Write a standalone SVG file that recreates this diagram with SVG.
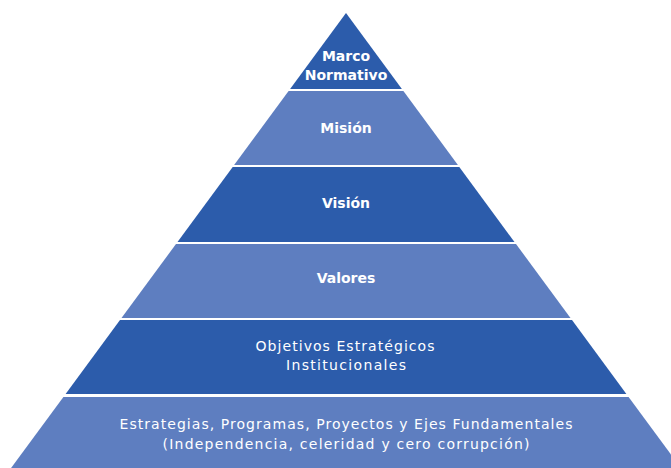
<svg xmlns="http://www.w3.org/2000/svg" width="671" height="468" viewBox="0 0 671 468">
<style>
.dark{fill:#2C5CAB}
.light{fill:#5E7EC0}
.b{font-family:"DejaVu Sans","Liberation Sans",sans-serif;font-weight:bold;font-size:14px;fill:#fff;text-anchor:middle}
.r{font-family:"DejaVu Sans","Liberation Sans",sans-serif;font-size:14px;fill:#fff;text-anchor:middle}
</style>
<rect width="671" height="468" fill="#fff"/>
<g id="marco">
<polygon class="dark" points="346,13 401.9,89 290.1,89"/>
<text class="b" x="346" y="61">Marco</text>
<text class="b" x="346" y="80">Normativo</text>
</g>
<g id="mision">
<polygon class="light" points="288.6,91 403.4,91 457.9,165 234.1,165"/>
<text class="b" x="346" y="133">Misión</text>
</g>
<g id="vision">
<polygon class="dark" points="232.7,167 459.3,167 514.5,242 177.5,242"/>
<text class="b" x="346" y="208">Visión</text>
</g>
<g id="valores">
<polygon class="light" points="176,244 516,244 570.5,318 121.5,318"/>
<text class="b" x="346" y="283">Valores</text>
</g>
<g id="objetivos">
<polygon class="dark" points="120,320 572,320 626.4,394 65.6,394"/>
<text class="r" x="345" y="351" textLength="179" lengthAdjust="spacing">Objetivos Estratégicos</text>
<text class="r" x="346" y="370" textLength="120" lengthAdjust="spacing">Institucionales</text>
</g>
<g id="estrategias">
<polygon class="light" points="63.4,397 628.6,397 682.4,470 9.6,470"/>
<text class="r" x="346" y="429" textLength="453" lengthAdjust="spacing">Estrategias, Programas, Proyectos y Ejes Fundamentales</text>
<text class="r" x="346" y="449" textLength="367" lengthAdjust="spacing">(Independencia, celeridad y cero corrupción)</text>
</g>
<g id="connectors"></g>
</svg>
